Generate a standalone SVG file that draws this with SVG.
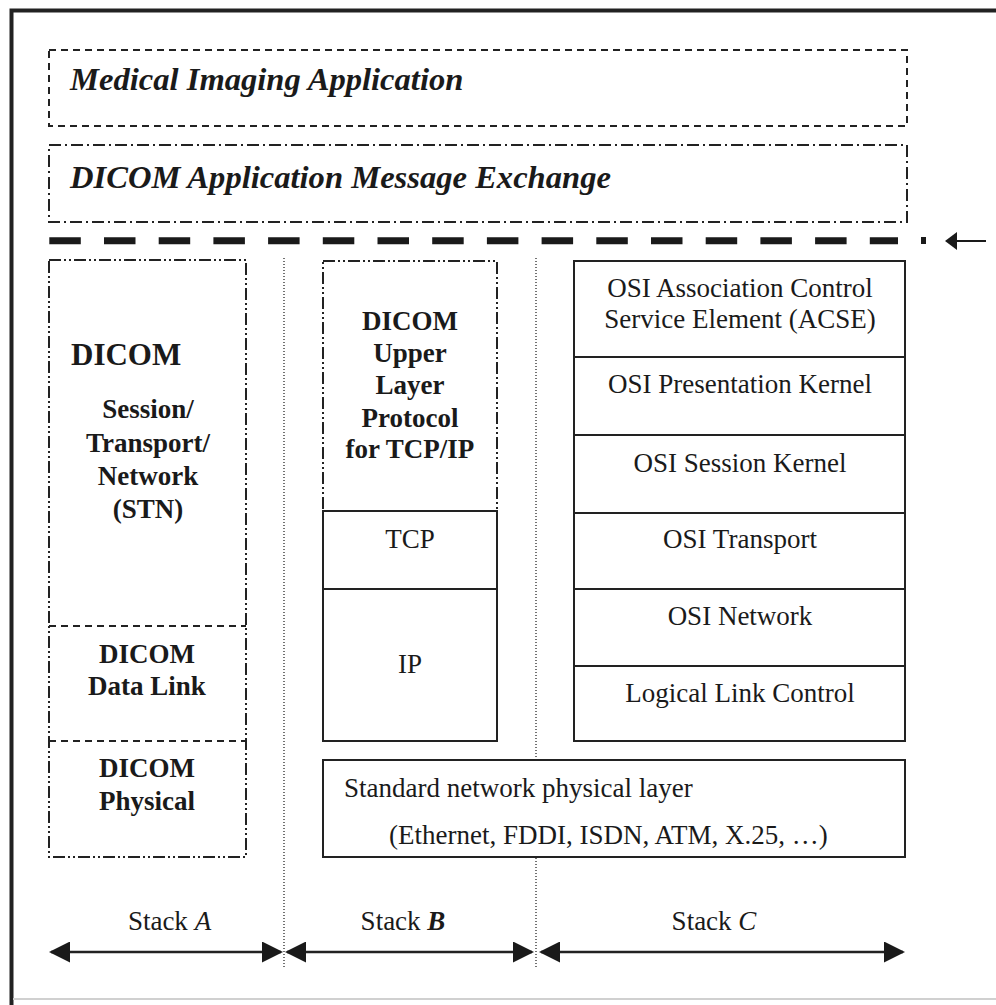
<svg xmlns="http://www.w3.org/2000/svg" width="996" height="1005" viewBox="0 0 996 1005">
<style>
text{font-family:"Liberation Serif","Times New Roman",serif;fill:#1a1a1a;}
.reg{font-size:27px;}
.bold{font-size:27px;font-weight:bold;}
.big{font-size:31px;font-weight:bold;}
.title{font-size:32.6px;font-weight:bold;font-style:italic;}
.c{text-anchor:middle;}
.solid{fill:#ffffff;stroke:#222;stroke-width:2;}
.dash{fill:none;stroke:#222;stroke-width:2;stroke-dasharray:7 5;}
.dashdot{fill:none;stroke:#222;stroke-width:2;stroke-dasharray:12 4 2 4;}
.dashdotdot{fill:none;stroke:#222;stroke-width:2;stroke-dasharray:12 3 2 3 2 3;}
.sep{fill:none;stroke:#444;stroke-width:1.5;stroke-dasharray:1 2;}
.arr{fill:none;stroke:#222;stroke-width:2.5;}
</style>
<defs>
<marker id="ah" viewBox="0 0 21 21" refX="19" refY="10.5" markerWidth="21" markerHeight="21" markerUnits="userSpaceOnUse" orient="auto-start-reverse">
<path d="M0,0 L21,10.5 L0,21 z" fill="#1a1a1a"/>
</marker>
</defs>
<rect x="0" y="0" width="996" height="1005" fill="#ffffff"/>
<g id="frame">
<path d="M11.5,1005 V10.5 H996" fill="none" stroke="#222" stroke-width="4"/>
<line x1="13" y1="999" x2="996" y2="999" stroke="#d0d0d0" stroke-width="2"/>
</g>

<g id="separators">
<line class="sep" x1="284" y1="258" x2="284" y2="968"/>
<line class="sep" x1="536" y1="258" x2="536" y2="968"/>
</g>

<g id="medical-imaging-application">
<rect class="dash" x="49" y="50" width="858" height="76"/>
<text class="title" x="70" y="90">Medical Imaging Application</text>
</g>

<g id="dicom-message-exchange">
<rect class="dashdot" x="49" y="145" width="858" height="77"/>
<text class="title" x="70" y="188">DICOM Application Message Exchange</text>
</g>

<g id="stack-a">
<rect class="dashdotdot" x="49" y="260" width="197" height="597"/>
<line class="dash" x1="49" y1="626" x2="246" y2="626"/>
<line class="dash" x1="49" y1="741" x2="246" y2="741"/>
<text class="big" x="71" y="365">DICOM</text>
<text class="bold c" x="148" y="418">Session/</text>
<text class="bold c" x="148" y="452">Transport/</text>
<text class="bold c" x="148" y="485">Network</text>
<text class="bold c" x="148" y="518">(STN)</text>
<text class="bold c" x="147" y="663">DICOM</text>
<text class="bold c" x="147" y="695">Data Link</text>
<text class="bold c" x="147" y="777">DICOM</text>
<text class="bold c" x="147" y="810">Physical</text>
</g>

<g id="stack-b">
<rect class="dashdotdot" x="323" y="261" width="174" height="250"/>
<rect class="solid" x="323" y="511" width="174" height="78"/>
<rect class="solid" x="323" y="589" width="174" height="152"/>
<text class="bold c" x="410" y="330">DICOM</text>
<text class="bold c" x="410" y="362">Upper</text>
<text class="bold c" x="410" y="394">Layer</text>
<text class="bold c" x="410" y="427">Protocol</text>
<text class="bold c" x="410" y="458">for TCP/IP</text>
<text class="reg c" x="410" y="548">TCP</text>
<text class="reg c" x="410" y="673">IP</text>
</g>

<g id="stack-c">
<rect class="solid" x="574" y="261" width="331" height="480"/>
<line class="solid" x1="574" y1="357" x2="905" y2="357"/>
<line class="solid" x1="574" y1="435" x2="905" y2="435"/>
<line class="solid" x1="574" y1="513" x2="905" y2="513"/>
<line class="solid" x1="574" y1="589" x2="905" y2="589"/>
<line class="solid" x1="574" y1="666" x2="905" y2="666"/>
<text class="reg c" x="740" y="297">OSI Association Control</text>
<text class="reg c" x="740" y="328">Service Element (ACSE)</text>
<text class="reg c" x="740" y="393">OSI Presentation Kernel</text>
<text class="reg c" x="740" y="472">OSI Session Kernel</text>
<text class="reg c" x="740" y="548">OSI Transport</text>
<text class="reg c" x="740" y="625">OSI Network</text>
<text class="reg c" x="740" y="702">Logical Link Control</text>
</g>

<g id="physical-layer">
<rect class="solid" x="323" y="760" width="582" height="97"/>
<text class="reg" x="344" y="797">Standard network physical layer</text>
<text class="reg" x="389" y="844">(Ethernet, FDDI, ISDN, ATM, X.25, …)</text>
</g>

<g id="stack-labels">
<text class="reg c" x="169.5" y="930">Stack <tspan font-style="italic">A</tspan></text>
<text class="reg c" x="403" y="930">Stack <tspan font-style="italic" font-weight="bold">B</tspan></text>
<text class="reg c" x="714" y="930">Stack <tspan font-style="italic">C</tspan></text>
</g>

<g id="connectors">
<line x1="49.3" y1="240.7" x2="898" y2="240.7" stroke="#1a1a1a" stroke-width="7" stroke-dasharray="31.5 23.2"/>
<rect x="921" y="237" width="5" height="7" fill="#1a1a1a"/>
<line x1="955" y1="241" x2="986" y2="241" stroke="#1a1a1a" stroke-width="2"/>
<path d="M945,241 L957,232 L957,250 z" fill="#1a1a1a"/>
<line class="arr" x1="51" y1="952" x2="281" y2="952" marker-start="url(#ah)" marker-end="url(#ah)"/>
<line class="arr" x1="287" y1="952" x2="532" y2="952" marker-start="url(#ah)" marker-end="url(#ah)"/>
<line class="arr" x1="541" y1="952" x2="903" y2="952" marker-start="url(#ah)" marker-end="url(#ah)"/>
</g>
</svg>
